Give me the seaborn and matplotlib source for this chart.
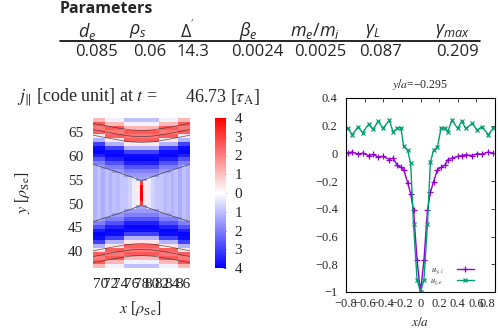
import numpy as np
import pandas as pd
import seaborn as sns
import matplotlib
matplotlib.use("Agg")
import matplotlib.pyplot as plt
from matplotlib.ticker import FuncFormatter

# parameter table
param_names = [r"$d_e$", r"$\rho_s$", r"$\Delta^{'}$", r"$\beta_e$",
               r"$m_e/m_i$", r"$\gamma_L$", r"$\gamma_{max}$"]
param_values = ["0.085", "0.06", "14.3", "0.0024", "0.0025", "0.087", "0.209"]

# j_par snapshot (left panel)
t_snap = 46.73
x_range = (68.6, 87.4)
y_range = (36.5, 67.9)
x_ticks = [70, 72, 74, 76, 78, 80, 82, 84, 86]
y_ticks = [40, 45, 50, 55, 60, 65]
cbar_ticks = [-4, -3, -2, -1, 0, 1, 2, 3, 4]
cbar_labels = ["4", "3", "2", "1", "0", "1", "2", "3", "4"]

# j outside the separatrix, row by row away from the mid-plane (box edges)
jz_outer = [-1.1, -1.1, -1.1, -1.2, -1.2, -1.4, -1.6, -2.0, -2.7, -3.5, -3.9,
            -3.8, -3.0, -1.2, 0.4, 2.5, 2.1, 2.6, 1.1, -0.2, -1.0, -1.6]
# j inside the separatrix, per column
inner_col = [-1.2, -1.0, -1.3, -1.0, -1.2, -1.0, -1.1, -0.9, -0.9, -0.7, -0.3, 0.3,
             0.0, 0.3, -0.3, -0.7, -0.9, -0.9, -1.1, -1.0, -1.2, -1.0, -1.3, -1.0, -1.2]
sheet = [4.3, 4.0, 3.0]  # current sheet, centre column
sep_rows = [7, 7, 6, 6, 6, 5, 5, 5, 4, 4, 4, 3, 3, 3, 4, 4, 4, 5, 5, 5, 6, 6, 6, 7, 7]
bend = [0, 0, 0, 1, 1, 1, 1, 1, 2, 2, 2, 2, 2, 2, 2, 2, 2, 1, 1, 1, 1, 1, 0, 0, 0]

# separatrix and flux-surface lines (distance from mid-plane)
sep_x = [68.6, 73.3, 78.0, 82.7, 87.4]
sep_d = [6.0, 4.4, 2.6, 4.4, 6.0]
arc_x = [68.6, 71.0, 73.5, 76.0, 78.0, 80.0, 82.5, 85.0, 87.4]
arc_drop = [0.0, 0.5, 1.0, 1.4, 1.5, 1.4, 1.0, 0.5, 0.0]
arc_levels = [12.1, 13.3, 14.6]

# cut at y/a = -0.295 (right panel)
x_cut = [-0.782, -0.732, -0.670, -0.622, -0.558, -0.509, -0.452, -0.405, -0.334,
         -0.295, -0.252, -0.212, -0.180, -0.137, -0.106, -0.075, -0.037, 0.0,
         0.037, 0.075, 0.106, 0.140, 0.182, 0.222, 0.265, 0.293, 0.336, 0.400,
         0.443, 0.486, 0.557, 0.608, 0.658, 0.729, 0.779]
u_yi = [0.005, 0.01, -0.005, 0.002, -0.015, -0.007, -0.027, -0.02, -0.044,
        -0.034, -0.083, -0.1, -0.117, -0.214, -0.29, -0.41, -0.77, -1.0,
        -0.77, -0.41, -0.28, -0.204, -0.117, -0.1, -0.083, -0.046, -0.034, -0.022,
        -0.015, -0.01, -0.015, -0.002, -0.005, 0.01, 0.002]
u_ze = [0.18, 0.136, 0.192, 0.151, 0.209, 0.175, 0.234, 0.18, 0.239,
        0.156, 0.18, 0.187, 0.051, 0.022, -0.071, -0.51, -0.91, -1.0,
        -0.91, -0.51, -0.064, 0.022, 0.046, 0.187, 0.18, 0.156, 0.24, 0.18,
        0.234, 0.18, 0.216, 0.168, 0.192, 0.136, 0.18]

sns.set_style("white")
plt.rcParams["mathtext.fontset"] = "custom"
plt.rcParams["mathtext.rm"] = "Open Sans"
plt.rcParams["mathtext.it"] = "Open Sans:italic"
serif = "Liberation Serif"

fig = plt.figure(figsize=(4.98, 3.32), dpi=100)

# ---- table ----
fig.text(60 / 498, 1 - 9 / 332, "Parameters", fontsize=11.5, fontweight="bold",
         family="Open Sans", ha="left", va="center")
head_x = [87, 138, 187, 248, 315, 373, 452]
val_x = [96, 150, 193, 257, 320, 380, 457]
for name, hx in zip(param_names, head_x):
    fig.text(hx / 498, 1 - 31 / 332, name, fontsize=13, family="Open Sans",
             ha="center", va="center")
for val, vx in zip(param_values, val_x):
    fig.text(vx / 498, 1 - 52 / 332, val, fontsize=12, family="Open Sans",
             ha="center", va="center")
fig.add_artist(plt.Line2D([60 / 498, 480 / 498], [1 - 41 / 332, 1 - 41 / 332],
                          color="black", lw=1.2))

# ---- heat map ----
nx, nhalf = len(inner_col), 19
ny = 2 * nhalf
dx = (x_range[1] - x_range[0]) / nx
dy = (y_range[1] - y_range[0]) / ny
field = np.zeros((ny, nx))
for i in range(ny):
    k = nhalf - 1 - i if i < nhalf else i - nhalf
    for j in range(nx):
        if k < sep_rows[j]:
            field[i, j] = sheet[k] if j == nx // 2 else inner_col[j]
        else:
            field[i, j] = jz_outer[k + bend[j]]
df = pd.DataFrame(field)

ax_map = fig.add_axes([93 / 498, 1 - 268 / 332, 97 / 498, 150 / 332])
ax_cb = fig.add_axes([215 / 498, 1 - 268 / 332, 11 / 498, 150 / 332])
sns.heatmap(df, ax=ax_map, cmap="bwr", vmin=-4, vmax=4, cbar_ax=ax_cb,
            xticklabels=False, yticklabels=False)

def cx(v):
    return [(a - x_range[0]) / dx for a in v]

def ry(v):
    return [(y_range[1] - a) / dy for a in v]

y_mid = (y_range[0] + y_range[1]) / 2
for sgn in (1, -1):
    ax_map.plot(cx(sep_x), ry([y_mid + sgn * d for d in sep_d]), color="#555555", lw=0.6)
    for lev in arc_levels:
        ax_map.plot(cx(arc_x), ry([y_mid + sgn * (lev - dr) for dr in arc_drop]),
                    color="#333333", lw=0.5, alpha=0.8)

ax_map.set_xticks(cx(x_ticks))
ax_map.set_xticklabels([str(v) for v in x_ticks], rotation=0)
ax_map.set_yticks(ry(y_ticks))
ax_map.set_yticklabels([str(v) for v in y_ticks], rotation=0)
ax_map.tick_params(length=0, pad=7, labelsize=11)
for lab in ax_map.get_xticklabels() + ax_map.get_yticklabels():
    lab.set_family(serif)

cb = ax_map.collections[0].colorbar
cb.set_ticks(cbar_ticks)
cb.set_ticklabels(cbar_labels)
cb.outline.set_visible(False)
ax_cb.tick_params(direction="in", length=2, width=0.5, pad=6, labelsize=11)
for lab in ax_cb.get_yticklabels():
    lab.set_family(serif)

fig.text(17 / 498, 1 - 97 / 332, r"$j_{\|}$ [code unit] at $t$ =",
         fontsize=13, family=serif, math_fontfamily="stix", ha="left", va="center")
fig.text(185 / 498, 1 - 97 / 332, f"{t_snap:.2f}" + r" [$\tau_\mathrm{A}$]",
         fontsize=13, family=serif, math_fontfamily="stix", ha="left", va="center")
fig.text(140 / 498, 1 - 308 / 332, r"$x$ [$\rho_\mathrm{Se}$]", fontsize=11.5,
         family=serif, math_fontfamily="stix", ha="center", va="center")
fig.text(22 / 498, 1 - 193 / 332, r"$y$ [$\rho_\mathrm{Se}$]", fontsize=11.5,
         family=serif, math_fontfamily="stix", ha="center", va="center", rotation=90)

# ---- cut profile ----
purple, green = "#9400D3", "#009E73"
ax = fig.add_axes([346 / 498, 1 - 292 / 332, 149 / 498, 194 / 332])
sns.lineplot(x=x_cut, y=u_yi, ax=ax, color=purple, marker="+", markersize=5,
             markeredgewidth=0.9, markeredgecolor=purple, linewidth=1.0,
             sort=False, label=r"$u_{y,i}$")
sns.lineplot(x=x_cut, y=u_ze, ax=ax, color=green, marker="x", markersize=3.5,
             markeredgewidth=0.9, markeredgecolor=green, linewidth=1.0,
             sort=False, label=r"$u_{z,e}$")
ax.set_xlim(-0.8, 0.8)
ax.set_ylim(-1, 0.4)
ax.set_xticks(np.arange(-0.8, 0.81, 0.2))
ax.set_yticks(np.arange(-1.0, 0.41, 0.2))


def gp_fmt(v, pos):
    v = round(v, 2)
    if abs(v) < 1e-9:
        return "0"
    return ("%g" % v).replace("-", "\u2212")


ax.xaxis.set_major_formatter(FuncFormatter(gp_fmt))
ax.yaxis.set_major_formatter(FuncFormatter(gp_fmt))
ax.tick_params(direction="in", top=True, right=True, length=3, width=0.6,
               labelsize=9, pad=4)
ax.tick_params(axis="y", pad=6)
for lab in ax.get_xticklabels() + ax.get_yticklabels():
    lab.set_family(serif)
# keep the last x label inside the figure
ax.get_xticklabels()[-1].set_horizontalalignment("right")
for sp in ax.spines.values():
    sp.set_color("black")
    sp.set_linewidth(0.8)
ax.set_xlabel("")
ax.set_ylabel("")
leg = ax.legend(loc="lower right", bbox_to_anchor=(0.89, 0.0), frameon=False,
                markerfirst=False, handlelength=2.0, handletextpad=1.6,
                labelspacing=0.05, borderpad=0.1,
                prop={"family": serif, "size": 6})
for t in leg.get_texts():
    t.set_math_fontfamily("stix")

fig.text(420 / 498, 1 - 84 / 332, r"$y/a$=" + "\u22120.295", fontsize=8.5,
         family=serif, math_fontfamily="stix", ha="center", va="center")
fig.text(420 / 498, 1 - 323 / 332, r"$x/a$", fontsize=9.5, family=serif,
         math_fontfamily="stix", ha="center", va="center")

fig.savefig("out.png", dpi=100)
